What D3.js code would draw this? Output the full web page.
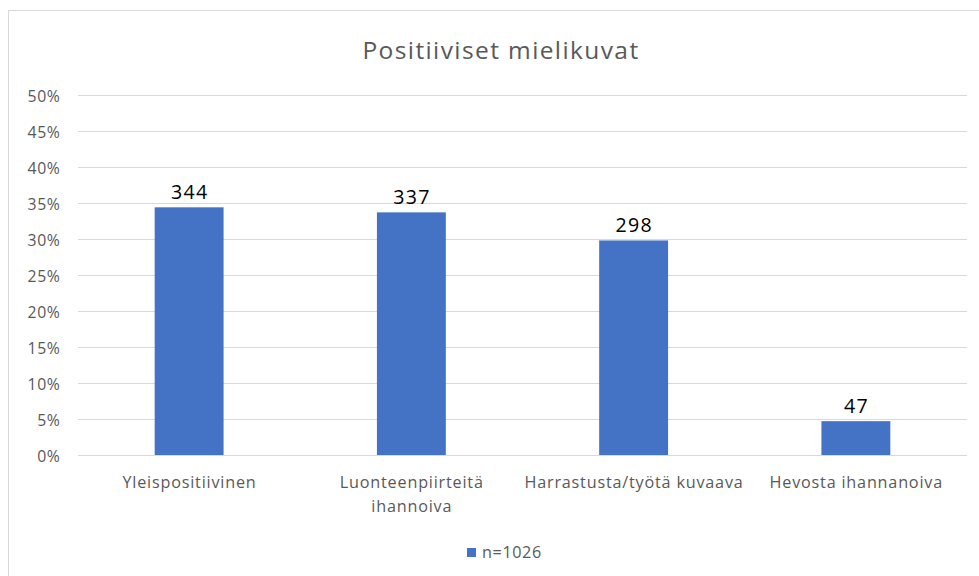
<!DOCTYPE html>
<html><head><meta charset="utf-8">
<script src="https://cdn.jsdelivr.net/npm/d3@7"></script>
<style>body{margin:0;background:#fff}svg{display:block}</style>
</head><body>
<script>
const categories = [["Yleispositiivinen"], ["Luonteenpiirteitä", "ihannoiva"], ["Harrastusta/työtä kuvaava"], ["Hevosta ihannanoiva"]];
const values = [34.4, 33.7, 29.8, 4.7];
const dataLabels = ["344", "337", "298", "47"];
const yTicks = [0, 5, 10, 15, 20, 25, 30, 35, 40, 45, 50];
const title = "Positiiviset mielikuvat";
const seriesName = "n=1026";

const W = 979, H = 576;
const font = "'Open Sans', sans-serif";
const svg = d3.select("body").append("svg").attr("width", W).attr("height", H);

svg.append("rect").attr("x", 8.5).attr("y", 10.5).attr("width", 1000).attr("height", 600)
  .attr("fill", "#fff").attr("stroke", "#d9d9d9");

const x = d3.scaleBand().domain(d3.range(categories.length)).range([78, 967]).paddingInner(0.69).paddingOuter(0.345);
const y = d3.scaleLinear().domain([0, 50]).range([455, 95]);

svg.append("g").selectAll("line").data(yTicks).join("line")
  .attr("x1", 78).attr("x2", 967).attr("y1", d => Math.round(y(d)) + 0.5).attr("y2", d => Math.round(y(d)) + 0.5)
  .attr("stroke", "#d9d9d9").attr("stroke-width", 1);

svg.append("g").selectAll("text").data(yTicks).join("text")
  .attr("x", 60.5).attr("y", d => y(d) + 7).attr("text-anchor", "end")
  .attr("font-family", font).attr("font-size", 15.8).attr("letter-spacing", 0.6).attr("fill", "#595959")
  .text(d => d + "%");

svg.append("g").selectAll("rect").data(values).join("rect")
  .attr("x", (d, i) => x(i)).attr("width", x.bandwidth())
  .attr("y", d => y(d)).attr("height", d => y(0) - y(d))
  .attr("fill", "#4472c4");

svg.append("g").selectAll("text").data(values).join("text")
  .attr("x", (d, i) => x(i) + x.bandwidth() / 2 + 0.7).attr("y", d => y(d) - 8.5)
  .attr("text-anchor", "middle").attr("font-family", font).attr("font-size", 19.6).attr("letter-spacing", 1.4).attr("fill", "#000")
  .text((d, i) => dataLabels[i]);

const cat = svg.append("g").selectAll("text").data(categories).join("text")
  .attr("text-anchor", "middle").attr("font-family", font).attr("font-size", 16.2).attr("letter-spacing", 0.8).attr("fill", "#595959");
cat.each(function(lines, i) {
  d3.select(this).selectAll("tspan").data(lines).join("tspan")
    .attr("x", x(i) + x.bandwidth() / 2 + 0.4).attr("y", (l, j) => 488 + j * 23.5).text(l => l);
});

svg.append("text").attr("x", 501).attr("y", 59).attr("text-anchor", "middle")
  .attr("font-family", font).attr("font-size", 24.5).attr("letter-spacing", 1.4).attr("fill", "#595959").text(title);

svg.append("rect").attr("x", 467).attr("y", 548).attr("width", 9).attr("height", 9).attr("fill", "#4472c4");
svg.append("text").attr("x", 482).attr("y", 558).attr("font-family", font).attr("font-size", 16.2).attr("letter-spacing", 0.6)
  .attr("fill", "#595959").text(seriesName);
</script>
</body></html>
